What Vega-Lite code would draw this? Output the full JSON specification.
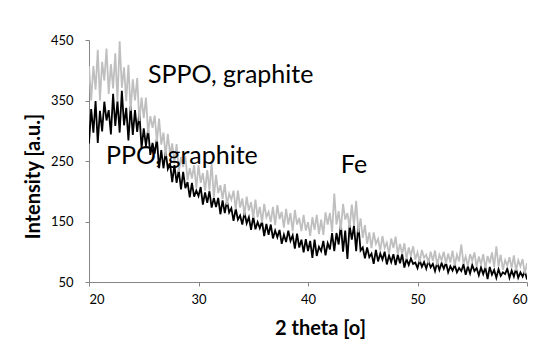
{
  "$schema": "https://vega.github.io/schema/vega-lite/v6.json",
  "width": 438,
  "height": 242,
  "autosize": "none",
  "padding": {"left": 89, "top": 40, "right": 26, "bottom": 60},
  "background": "white",
  "config": {
    "view": {"stroke": null},
    "font": "Lato",
    "axis": {
      "grid": false,
      "domainColor": "#868686",
      "tickColor": "#868686",
      "tickSize": 4,
      "labelFont": "Lato",
      "labelFontSize": 13,
      "labelColor": "#000000",
      "titleFont": "Lato",
      "titleColor": "#000000",
      "titleFontWeight": "bold",
      "titleFontSize": 20
    }
  },
  "datasets": {
    "xrd": [
      {"x":20,"SPPO":407,"PPO":279},{"x":20.2,"SPPO":350,"PPO":336},{"x":20.4,"SPPO":407,"PPO":297},{"x":20.6,"SPPO":368,"PPO":349},{"x":20.8,"SPPO":434,"PPO":280},
      {"x":21,"SPPO":350,"PPO":333},{"x":21.2,"SPPO":414,"PPO":299},{"x":21.4,"SPPO":383,"PPO":348},{"x":21.6,"SPPO":436,"PPO":317},{"x":21.8,"SPPO":361,"PPO":334},
      {"x":22,"SPPO":410,"PPO":294},{"x":22.2,"SPPO":370,"PPO":361},{"x":22.4,"SPPO":428,"PPO":308},{"x":22.6,"SPPO":348,"PPO":349},{"x":22.8,"SPPO":448,"PPO":297},
      {"x":23,"SPPO":371,"PPO":366},{"x":23.2,"SPPO":405,"PPO":309},{"x":23.4,"SPPO":349,"PPO":338},{"x":23.6,"SPPO":409,"PPO":284},{"x":23.8,"SPPO":333,"PPO":341},
      {"x":24,"SPPO":385,"PPO":293},{"x":24.2,"SPPO":350,"PPO":334},{"x":24.4,"SPPO":387,"PPO":298},{"x":24.6,"SPPO":316,"PPO":330},{"x":24.8,"SPPO":355,"PPO":271},
      {"x":25,"SPPO":321,"PPO":304},{"x":25.2,"SPPO":355,"PPO":275},{"x":25.4,"SPPO":296,"PPO":302},{"x":25.6,"SPPO":324,"PPO":260},{"x":25.8,"SPPO":305,"PPO":280},
      {"x":26,"SPPO":325,"PPO":262},{"x":26.2,"SPPO":282,"PPO":287},{"x":26.4,"SPPO":320,"PPO":238},{"x":26.6,"SPPO":277,"PPO":268},{"x":26.8,"SPPO":297,"PPO":238},
      {"x":27,"SPPO":258,"PPO":265},{"x":27.2,"SPPO":295,"PPO":237},{"x":27.4,"SPPO":261,"PPO":246},{"x":27.6,"SPPO":279,"PPO":215},{"x":27.8,"SPPO":246,"PPO":243},
      {"x":28,"SPPO":278,"PPO":214},{"x":28.2,"SPPO":232,"PPO":235},{"x":28.4,"SPPO":257,"PPO":203},{"x":28.6,"SPPO":240,"PPO":232},{"x":28.8,"SPPO":258,"PPO":205},
      {"x":29,"SPPO":218,"PPO":215},{"x":29.2,"SPPO":238,"PPO":190},{"x":29.4,"SPPO":221,"PPO":214},{"x":29.6,"SPPO":243,"PPO":191},{"x":29.8,"SPPO":205,"PPO":201},
      {"x":30,"SPPO":243,"PPO":192},{"x":30.2,"SPPO":214,"PPO":207},{"x":30.4,"SPPO":230,"PPO":178},{"x":30.6,"SPPO":201,"PPO":198},{"x":30.8,"SPPO":235,"PPO":181},
      {"x":31,"SPPO":201,"PPO":200},{"x":31.2,"SPPO":248,"PPO":173},{"x":31.4,"SPPO":189,"PPO":189},{"x":31.6,"SPPO":227,"PPO":174},{"x":31.8,"SPPO":197,"PPO":189},
      {"x":32,"SPPO":210,"PPO":162},{"x":32.2,"SPPO":187,"PPO":185},{"x":32.4,"SPPO":212,"PPO":164},{"x":32.6,"SPPO":178,"PPO":184},{"x":32.8,"SPPO":196,"PPO":165},
      {"x":33,"SPPO":186,"PPO":172},{"x":33.2,"SPPO":201,"PPO":151},{"x":33.4,"SPPO":170,"PPO":171},{"x":33.6,"SPPO":201,"PPO":153},{"x":33.8,"SPPO":173,"PPO":160},
      {"x":34,"SPPO":188,"PPO":145},{"x":34.2,"SPPO":160,"PPO":165},{"x":34.4,"SPPO":191,"PPO":147},{"x":34.6,"SPPO":168,"PPO":157},{"x":34.8,"SPPO":182,"PPO":136},
      {"x":35,"SPPO":156,"PPO":158},{"x":35.2,"SPPO":186,"PPO":137},{"x":35.4,"SPPO":157,"PPO":149},{"x":35.6,"SPPO":174,"PPO":139},{"x":35.8,"SPPO":148,"PPO":150},
      {"x":36,"SPPO":179,"PPO":126},{"x":36.2,"SPPO":157,"PPO":146},{"x":36.4,"SPPO":166,"PPO":128},{"x":36.6,"SPPO":149,"PPO":145},{"x":36.8,"SPPO":174,"PPO":122},
      {"x":37,"SPPO":144,"PPO":135},{"x":37.2,"SPPO":177,"PPO":124},{"x":37.4,"SPPO":154,"PPO":136},{"x":37.6,"SPPO":166,"PPO":113},{"x":37.8,"SPPO":140,"PPO":128},
      {"x":38,"SPPO":171,"PPO":116},{"x":38.2,"SPPO":145,"PPO":135},{"x":38.4,"SPPO":164,"PPO":118},{"x":38.6,"SPPO":134,"PPO":127},{"x":38.8,"SPPO":169,"PPO":105},
      {"x":39,"SPPO":145,"PPO":130},{"x":39.2,"SPPO":156,"PPO":107},{"x":39.4,"SPPO":134,"PPO":120},{"x":39.6,"SPPO":161,"PPO":99},{"x":39.8,"SPPO":135,"PPO":121},
      {"x":40,"SPPO":149,"PPO":101},{"x":40.2,"SPPO":126,"PPO":118},{"x":40.4,"SPPO":157,"PPO":90},{"x":40.6,"SPPO":136,"PPO":120},{"x":40.8,"SPPO":161,"PPO":93},
      {"x":41,"SPPO":129,"PPO":108},{"x":41.2,"SPPO":153,"PPO":101},{"x":41.4,"SPPO":128,"PPO":118},{"x":41.6,"SPPO":165,"PPO":94},{"x":41.8,"SPPO":145,"PPO":114},
      {"x":42,"SPPO":164,"PPO":104},{"x":42.2,"SPPO":133,"PPO":131},{"x":42.4,"SPPO":196,"PPO":101},{"x":42.6,"SPPO":145,"PPO":131},{"x":42.8,"SPPO":167,"PPO":112},
      {"x":43,"SPPO":136,"PPO":145},{"x":43.2,"SPPO":179,"PPO":100},{"x":43.4,"SPPO":153,"PPO":135},{"x":43.6,"SPPO":164,"PPO":88},{"x":43.8,"SPPO":140,"PPO":144},
      {"x":44,"SPPO":178,"PPO":120},{"x":44.2,"SPPO":144,"PPO":143},{"x":44.4,"SPPO":184,"PPO":101},{"x":44.6,"SPPO":132,"PPO":145},{"x":44.8,"SPPO":155,"PPO":102},
      {"x":45,"SPPO":123,"PPO":107},{"x":45.2,"SPPO":144,"PPO":89},{"x":45.4,"SPPO":113,"PPO":107},{"x":45.6,"SPPO":132,"PPO":91},{"x":45.8,"SPPO":106,"PPO":97},
      {"x":46,"SPPO":132,"PPO":80},{"x":46.2,"SPPO":113,"PPO":103},{"x":46.4,"SPPO":121,"PPO":84},{"x":46.6,"SPPO":102,"PPO":97},{"x":46.8,"SPPO":126,"PPO":87},
      {"x":47,"SPPO":106,"PPO":100},{"x":47.2,"SPPO":115,"PPO":79},{"x":47.4,"SPPO":96,"PPO":94},{"x":47.6,"SPPO":122,"PPO":83},{"x":47.8,"SPPO":106,"PPO":96},
      {"x":48,"SPPO":125,"PPO":78},{"x":48.2,"SPPO":96,"PPO":95},{"x":48.4,"SPPO":113,"PPO":81},{"x":48.6,"SPPO":96,"PPO":96},{"x":48.8,"SPPO":114,"PPO":74},
      {"x":49,"SPPO":88,"PPO":88},{"x":49.2,"SPPO":107,"PPO":78},{"x":49.4,"SPPO":93,"PPO":89},{"x":49.6,"SPPO":109,"PPO":80},{"x":49.8,"SPPO":87,"PPO":82},
      {"x":50,"SPPO":99,"PPO":73},{"x":50.2,"SPPO":83,"PPO":86},{"x":50.4,"SPPO":103,"PPO":75},{"x":50.6,"SPPO":90,"PPO":83},{"x":50.8,"SPPO":95,"PPO":72},
      {"x":51,"SPPO":81,"PPO":85},{"x":51.2,"SPPO":100,"PPO":74},{"x":51.4,"SPPO":85,"PPO":80},{"x":51.6,"SPPO":102,"PPO":68},{"x":51.8,"SPPO":78,"PPO":82},
      {"x":52,"SPPO":95,"PPO":70},{"x":52.2,"SPPO":86,"PPO":81},{"x":52.4,"SPPO":100,"PPO":72},{"x":52.6,"SPPO":80,"PPO":82},{"x":52.8,"SPPO":97,"PPO":66},
      {"x":53,"SPPO":82,"PPO":76},{"x":53.2,"SPPO":102,"PPO":69},{"x":53.4,"SPPO":77,"PPO":78},{"x":53.6,"SPPO":95,"PPO":66},{"x":53.8,"SPPO":84,"PPO":73},
      {"x":54,"SPPO":112,"PPO":68},{"x":54.2,"SPPO":80,"PPO":79},{"x":54.4,"SPPO":92,"PPO":62},{"x":54.6,"SPPO":76,"PPO":76},{"x":54.8,"SPPO":96,"PPO":64},
      {"x":55,"SPPO":85,"PPO":78},{"x":55.2,"SPPO":99,"PPO":68},{"x":55.4,"SPPO":75,"PPO":73},{"x":55.6,"SPPO":92,"PPO":61},{"x":55.8,"SPPO":79,"PPO":74},
      {"x":56,"SPPO":96,"PPO":63},{"x":56.2,"SPPO":73,"PPO":74},{"x":56.4,"SPPO":93,"PPO":55},{"x":56.6,"SPPO":81,"PPO":75},{"x":56.8,"SPPO":99,"PPO":62},
      {"x":57,"SPPO":75,"PPO":70},{"x":57.2,"SPPO":109,"PPO":57},{"x":57.4,"SPPO":76,"PPO":71},{"x":57.6,"SPPO":95,"PPO":60},{"x":57.8,"SPPO":70,"PPO":66},
      {"x":58,"SPPO":86,"PPO":63},{"x":58.2,"SPPO":77,"PPO":72},{"x":58.4,"SPPO":91,"PPO":57},{"x":58.6,"SPPO":73,"PPO":69},{"x":58.8,"SPPO":94,"PPO":59},
      {"x":59,"SPPO":69,"PPO":72},{"x":59.2,"SPPO":86,"PPO":57},{"x":59.4,"SPPO":76,"PPO":66},{"x":59.6,"SPPO":88,"PPO":59},{"x":59.8,"SPPO":64,"PPO":68},
      {"x":60,"SPPO":81,"PPO":54}
    ],
    "labels": [
      {"x":25.39,"y":379,"text":"SPPO,  graphite"},
      {"x":21.55,"y":245,"text":"PPO, graphite"},
      {"x":43.0,"y":230,"text":"Fe"}
    ]
  },
  "layer": [
    {
      "data": {"name": "xrd"},
      "mark": {"type": "line", "color": "#000000", "strokeWidth": 1.8, "clip": true},
      "encoding": {
        "x": {"field": "x", "type": "quantitative", "scale": {"domain": [20, 60], "nice": false},
              "axis": {"values": [20, 30, 40, 50, 60], "title": "2 theta [o]", "labelPadding": 7, "titlePadding": 12, "titleX": 231}},
        "y": {"field": "PPO", "type": "quantitative", "scale": {"domain": [50, 450], "nice": false, "zero": false},
              "axis": {"values": [50, 150, 250, 350, 450], "title": "Intensity [a.u.]", "labelPadding": 12, "titlePadding": 7, "titleY": 136}}
      }
    },
    {
      "data": {"name": "xrd"},
      "mark": {"type": "line", "color": "#BFBFBF", "strokeWidth": 1.8, "clip": true},
      "encoding": {
        "x": {"field": "x", "type": "quantitative"},
        "y": {"field": "SPPO", "type": "quantitative"}
      }
    },
    {
      "data": {"name": "labels"},
      "mark": {"type": "text", "align": "left", "baseline": "alphabetic", "fontSize": 25, "font": "Lato", "color": "#000000"},
      "encoding": {
        "x": {"field": "x", "type": "quantitative"},
        "y": {"field": "y", "type": "quantitative"},
        "text": {"field": "text"}
      }
    }
  ]
}
